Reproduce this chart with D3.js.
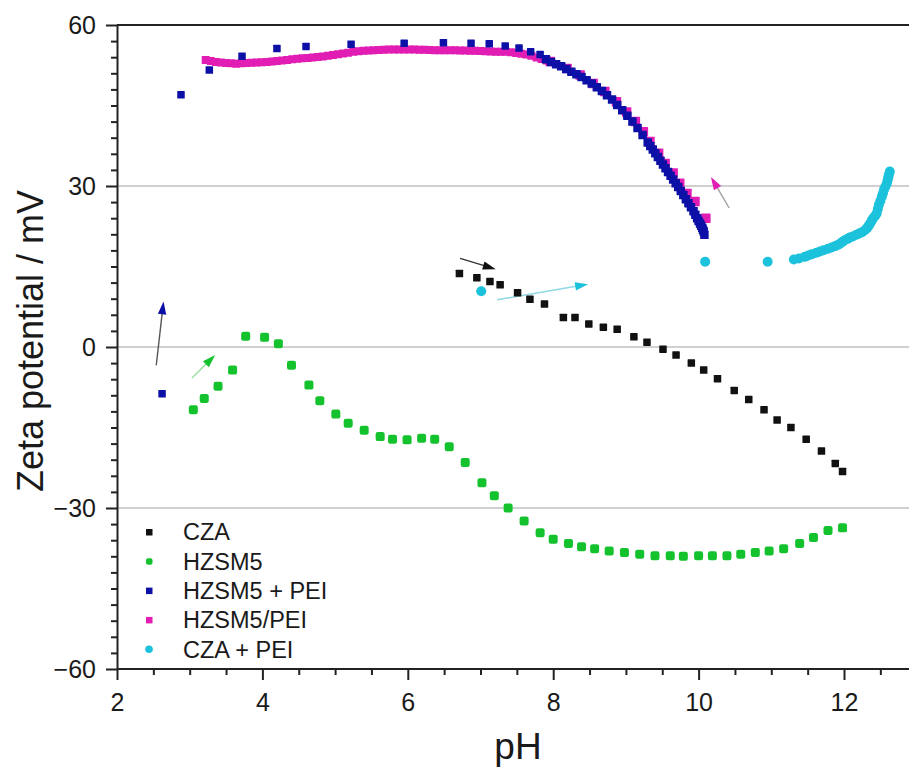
<!DOCTYPE html>
<html>
<head>
<meta charset="utf-8">
<script src="https://cdn.jsdelivr.net/npm/d3@7"></script>
<style>
  body { margin: 0; background: #fff; }
  svg text { font-family: "Liberation Sans", Arial, Helvetica, sans-serif; fill: #1a1a1a; }
</style>
</head>
<body>
<svg id="chart" width="909" height="767"></svg>
<script>
// Zeta potential (mV) against pH, one array of [pH, mV] pairs per sample
const czaData = [
  [6.71,13.7],[6.95,12.9],[7.13,12.2],[7.27,11.6],[7.51,10.1],[7.68,8.9],[7.88,8.0],
  [8.14,5.5],[8.30,5.5],[8.49,4.3],[8.69,3.7],[8.88,3.3],[9.11,1.9],[9.29,0.9],
  [9.51,-0.4],[9.69,-1.5],[9.90,-3.0],[10.07,-4.3],[10.26,-5.9],[10.49,-8.1],
  [10.69,-9.8],[10.90,-11.7],[11.08,-13.6],[11.27,-15.0],[11.48,-17.2],[11.69,-19.4],
  [11.88,-21.7],[11.98,-23.2]
];

const hzsm5Data = [
  [3.05,-11.7],[3.20,-9.6],[3.39,-7.3],[3.59,-4.3],[3.77,2.0],[4.03,1.8],[4.22,0.6],
  [4.40,-3.4],[4.64,-7.1],[4.79,-10.0],[5.01,-12.5],[5.18,-14.2],[5.40,-15.5],
  [5.62,-16.7],[5.79,-17.2],[5.99,-17.3],[6.19,-17.0],[6.37,-17.2],[6.57,-18.6],
  [6.79,-21.5],[7.02,-25.3],[7.19,-27.7],[7.38,-30.0],[7.60,-32.4],[7.82,-34.6],
  [8.00,-35.8],[8.21,-36.6],[8.39,-37.2],[8.57,-37.6],[8.77,-38.0],[8.98,-38.3],
  [9.19,-38.6],[9.40,-38.9],[9.61,-38.9],[9.79,-39.0],[10.00,-38.9],[10.19,-38.9],
  [10.39,-38.9],[10.58,-38.6],[10.78,-38.3],[10.97,-38.0],[11.17,-37.6],[11.39,-36.6],
  [11.58,-35.5],[11.78,-34.2],[11.98,-33.7]
];

const hzsm5PeiData = [
  [2.62,-8.7],[2.88,47.0],[3.27,51.6],[3.72,54.2],[4.20,55.6],[4.60,56.0],[5.22,56.4],
  [5.95,56.6],[6.49,56.7],[6.87,56.6],[7.12,56.5],[7.34,56.1],[7.53,55.7],[7.69,55.0],
  [7.82,54.5],[7.90,53.6],[7.97,53.1],[8.04,52.7],[8.11,52.3],[8.18,51.8],[8.25,51.3],
  [8.32,50.8],[8.39,50.3],[8.46,49.7],[8.53,49.1],[8.60,48.4],[8.67,47.7],[8.74,46.9],
  [8.81,46.1],[8.88,45.1],[8.95,44.1],[9.02,43.1],[9.09,42.0],[9.16,40.8],[9.23,39.5],
  [9.30,38.1],[9.335,37.45],[9.37,36.8],[9.405,36.1],[9.44,35.4],[9.475,34.7],[9.51,34.0],
  [9.545,33.3],[9.58,32.6],[9.615,31.9],[9.65,31.2],[9.685,30.5],[9.72,29.8],[9.755,29.05],
  [9.79,28.3],[9.825,27.55],[9.86,26.8],[9.895,26.05],[9.93,25.3],[9.955,24.65],[9.98,24.0],
  [10.00,23.5],[10.02,23.0],[10.035,22.6],[10.05,22.2],[10.06,21.85],[10.07,21.5],[10.08,20.9]
];

const hzsm5SlashPeiData = [
  [3.22,53.5],[3.29,53.3],[3.36,53.1],[3.43,53.0],[3.50,52.9],[3.57,52.85],[3.64,52.8],
  [3.71,52.85],[3.78,52.9],[3.85,52.95],[3.92,53.0],[3.99,53.05],[4.06,53.1],[4.13,53.2],
  [4.20,53.3],[4.27,53.4],[4.34,53.5],[4.41,53.6],[4.48,53.7],[4.55,53.8],[4.62,53.85],
  [4.69,53.95],[4.76,54.05],[4.83,54.15],[4.90,54.25],[4.97,54.4],[5.04,54.55],
  [5.11,54.7],[5.18,54.85],[5.25,55.0],[5.32,55.1],[5.39,55.2],[5.46,55.25],[5.53,55.3],
  [5.60,55.35],[5.67,55.4],[5.74,55.45],[5.81,55.45],[5.88,55.45],[5.95,55.45],
  [6.02,55.45],[6.09,55.45],[6.16,55.4],[6.23,55.4],[6.30,55.35],[6.37,55.3],[6.44,55.3],
  [6.51,55.3],[6.58,55.3],[6.65,55.3],[6.72,55.25],[6.79,55.25],[6.86,55.2],[6.93,55.2],
  [7.00,55.15],[7.07,55.1],[7.14,55.05],[7.21,55.0],[7.28,55.0],[7.35,55.0],[7.42,54.9],
  [7.49,54.8],[7.56,54.65],[7.63,54.5],[7.70,54.25],[7.77,53.95],[7.84,53.65],[7.91,53.4],
  [7.96,53.2],[8.19,51.9],[8.37,50.7],[8.55,49.1],[8.71,47.6],[8.87,45.7],[9.01,43.8],
  [9.13,42.0],[9.24,40.1],[9.33,38.3],[9.45,36.1],[9.54,34.2],[9.65,32.4],[9.74,30.5],
  [9.84,28.6],[9.95,27.1],[10.10,24.0]
];

const czaPeiData = [
  [7.01,10.4],[10.09,15.9],[10.95,15.9],[11.31,16.3],[11.38,16.5],[11.46,16.8],
  [11.51,17.05],[11.56,17.3],[11.62,17.55],[11.67,17.8],[11.72,18.05],[11.78,18.3],
  [11.83,18.55],[11.88,18.8],[11.92,19.05],[11.95,19.3],[11.98,19.6],[12.01,19.9],
  [12.05,20.15],[12.08,20.4],[12.12,20.6],[12.17,20.9],[12.21,21.15],[12.25,21.4],
  [12.29,21.8],[12.32,22.2],[12.34,22.6],[12.36,23.0],[12.38,23.5],[12.40,24.0],
  [12.43,24.45],[12.45,24.9],[12.465,25.7],[12.48,26.5],[12.50,27.2],[12.52,28.0],
  [12.535,28.6],[12.55,29.3],[12.57,29.9],[12.59,30.5],[12.60,31.1],[12.61,31.7],
  [12.62,32.2],[12.63,32.7]
];

const seriesNames  = ["CZA", "HZSM5", "HZSM5 + PEI", "HZSM5/PEI", "CZA + PEI"];
const seriesData   = [czaData, hzsm5Data, hzsm5PeiData, hzsm5SlashPeiData, czaPeiData];
const seriesColors = ["#111111", "#14c22e", "#0c10a6", "#e11db4", "#1cc2dc"];

// Axis ticks
const xMajorTicks = [2, 4, 6, 8, 10, 12];
const yMajorTicks = [-60, -30, 0, 30, 60];
const yGridValues = [-30, 0, 30];

// Trend arrows, [pH, mV] start and end
const arrowFrom   = [[2.54,-3.4], [3.03,-5.8], [6.72,16.5], [7.23,8.8], [10.42,25.9]];
const arrowTo     = [[2.64,8.5],  [3.35,-1.5], [7.21,14.5], [8.48,11.7], [10.17,31.7]];
const arrowHeadColors = ["#0c10a6", "#14c22e", "#111111", "#1cc2dc", "#e11db4"];
const arrowLineColors = ["#555555", "#8fdc98", "#333333", "#8fd8e4", "#a0a0a0"];

(function drawChart() {
  const svg = d3.select("#chart");
  const W = 909, H = 767;
  const plotLeft = 117, plotTop = 25, plotBottom = 669;

  const x = d3.scaleLinear().domain([2, 13]).range([plotLeft, plotLeft + 11 * 72.7]);
  const y = d3.scaleLinear().domain([-60, 60]).range([plotBottom, plotTop]);

  svg.append("rect").attr("width", W).attr("height", H).attr("fill", "#fff");

  // grid lines
  svg.append("g").selectAll("line").data(yGridValues).join("line")
    .attr("x1", plotLeft).attr("x2", W)
    .attr("y1", d => y(d)).attr("y2", d => y(d))
    .attr("stroke", "#d0d0d0").attr("stroke-width", 2);

  // top frame line
  svg.append("line")
    .attr("x1", plotLeft).attr("x2", W).attr("y1", plotTop).attr("y2", plotTop)
    .attr("stroke", "#222").attr("stroke-width", 2.2);

  // arrows
  const arrows = d3.range(arrowFrom.length).map(i => ({
    from: arrowFrom[i], to: arrowTo[i], head: arrowHeadColors[i], line: arrowLineColors[i]
  }));
  const ag = svg.append("g");
  arrows.forEach(a => {
    const x0 = x(a.from[0]), y0 = y(a.from[1]);
    const x1 = x(a.to[0]), y1 = y(a.to[1]);
    const dx = x1 - x0, dy = y1 - y0, len = Math.hypot(dx, dy);
    const ux = dx / len, uy = dy / len, nx = -uy, ny = ux;
    const hl = 13, hw = 4.2;
    ag.append("line")
      .attr("x1", x0).attr("y1", y0).attr("x2", x1 - ux * hl * 0.6).attr("y2", y1 - uy * hl * 0.6)
      .attr("stroke", a.line).attr("stroke-width", 1.4);
    const bx = x1 - ux * hl, by = y1 - uy * hl;
    ag.append("path")
      .attr("d", `M${x1},${y1}L${bx + nx * hw},${by + ny * hw}L${bx - nx * hw},${by - ny * hw}Z`)
      .attr("fill", a.head);
  });

  // scatter markers; HZSM5/PEI drawn below HZSM5 + PEI
  const drawOrder = [0, 1, 3, 2, 4];
  const marks = svg.append("g");
  drawOrder.forEach(i => {
    const g = marks.append("g");
    const col = seriesColors[i];
    if (i === 4) {
      g.selectAll("circle").data(seriesData[i]).join("circle")
        .attr("cx", d => x(d[0])).attr("cy", d => y(d[1])).attr("r", 5)
        .attr("fill", col);
    } else {
      const size = d => {
        if (i === 1) return 9;
        if (i === 3) return d[0] > 7.93 ? 9.5 : 8;
        if (i === 2) return d[0] > 7.85 ? 8.5 : 7.5;
        return 7.5;
      };
      g.selectAll("rect").data(seriesData[i]).join("rect")
        .attr("x", d => x(d[0]) - size(d) / 2).attr("y", d => y(d[1]) - size(d) / 2)
        .attr("width", size).attr("height", size)
        .attr("rx", i === 1 ? 2.2 : 0.6)
        .attr("fill", col);
    }
  });

  // axes
  const xAxis = svg.append("g").attr("transform", `translate(0,${plotBottom})`)
    .call(d3.axisBottom(x).tickValues(xMajorTicks).tickSize(11).tickSizeOuter(0).tickPadding(13)
      .tickFormat(d3.format("d")));
  svg.append("g").attr("transform", `translate(0,${plotBottom})`)
    .call(d3.axisBottom(x).tickValues(d3.range(2, 13.01, 0.5).filter(v => v % 2 !== 0))
      .tickSize(6).tickSizeOuter(0).tickFormat(""))
    .call(g => g.select(".domain").remove());

  svg.append("g").attr("transform", `translate(${plotLeft},0)`)
    .call(d3.axisLeft(y).tickValues(yMajorTicks).tickSize(11).tickSizeOuter(0).tickPadding(10)
      .tickFormat(d => d < 0 ? "\u2212" + Math.abs(d) : d));
  svg.append("g").attr("transform", `translate(${plotLeft},0)`)
    .call(d3.axisLeft(y).tickValues(d3.range(-60, 60.01, 3).filter(v => v % 30 !== 0))
      .tickSize(6).tickSizeOuter(0).tickFormat(""))
    .call(g => g.select(".domain").remove());

  svg.selectAll(".domain, .tick line").attr("stroke", "#222").attr("stroke-width", 2);
  xAxis.select(".domain").attr("d", `M${plotLeft},0H${W}`);
  svg.selectAll(".tick text").attr("font-size", 25).attr("fill", "#1a1a1a")
    .attr("font-family", "\"Liberation Sans\", Arial, sans-serif");

  // axis titles
  svg.append("text").attr("x", 518).attr("y", 759).attr("text-anchor", "middle")
    .attr("font-size", 37).text("pH");
  svg.append("text")
    .attr("transform", "translate(43,341) rotate(-90)")
    .attr("text-anchor", "middle").attr("font-size", 36)
    .text("Zeta potential / mV");

  // legend
  const legend = svg.append("g");
  seriesNames.forEach((name, i) => {
    const cy = 532 + i * 29.3;
    if (i === 4) {
      legend.append("circle").attr("cx", 149).attr("cy", cy).attr("r", 3.8).attr("fill", seriesColors[i]);
    } else {
      legend.append("rect").attr("x", 146).attr("y", cy - 3).attr("width", 6.5).attr("height", 6.5)
        .attr("rx", i === 1 ? 2 : 0).attr("fill", seriesColors[i]);
    }
    legend.append("text").attr("x", 183).attr("y", cy).attr("dy", "0.36em")
      .attr("font-size", 23.5).text(name);
  });
})();
</script>
</body>
</html>
